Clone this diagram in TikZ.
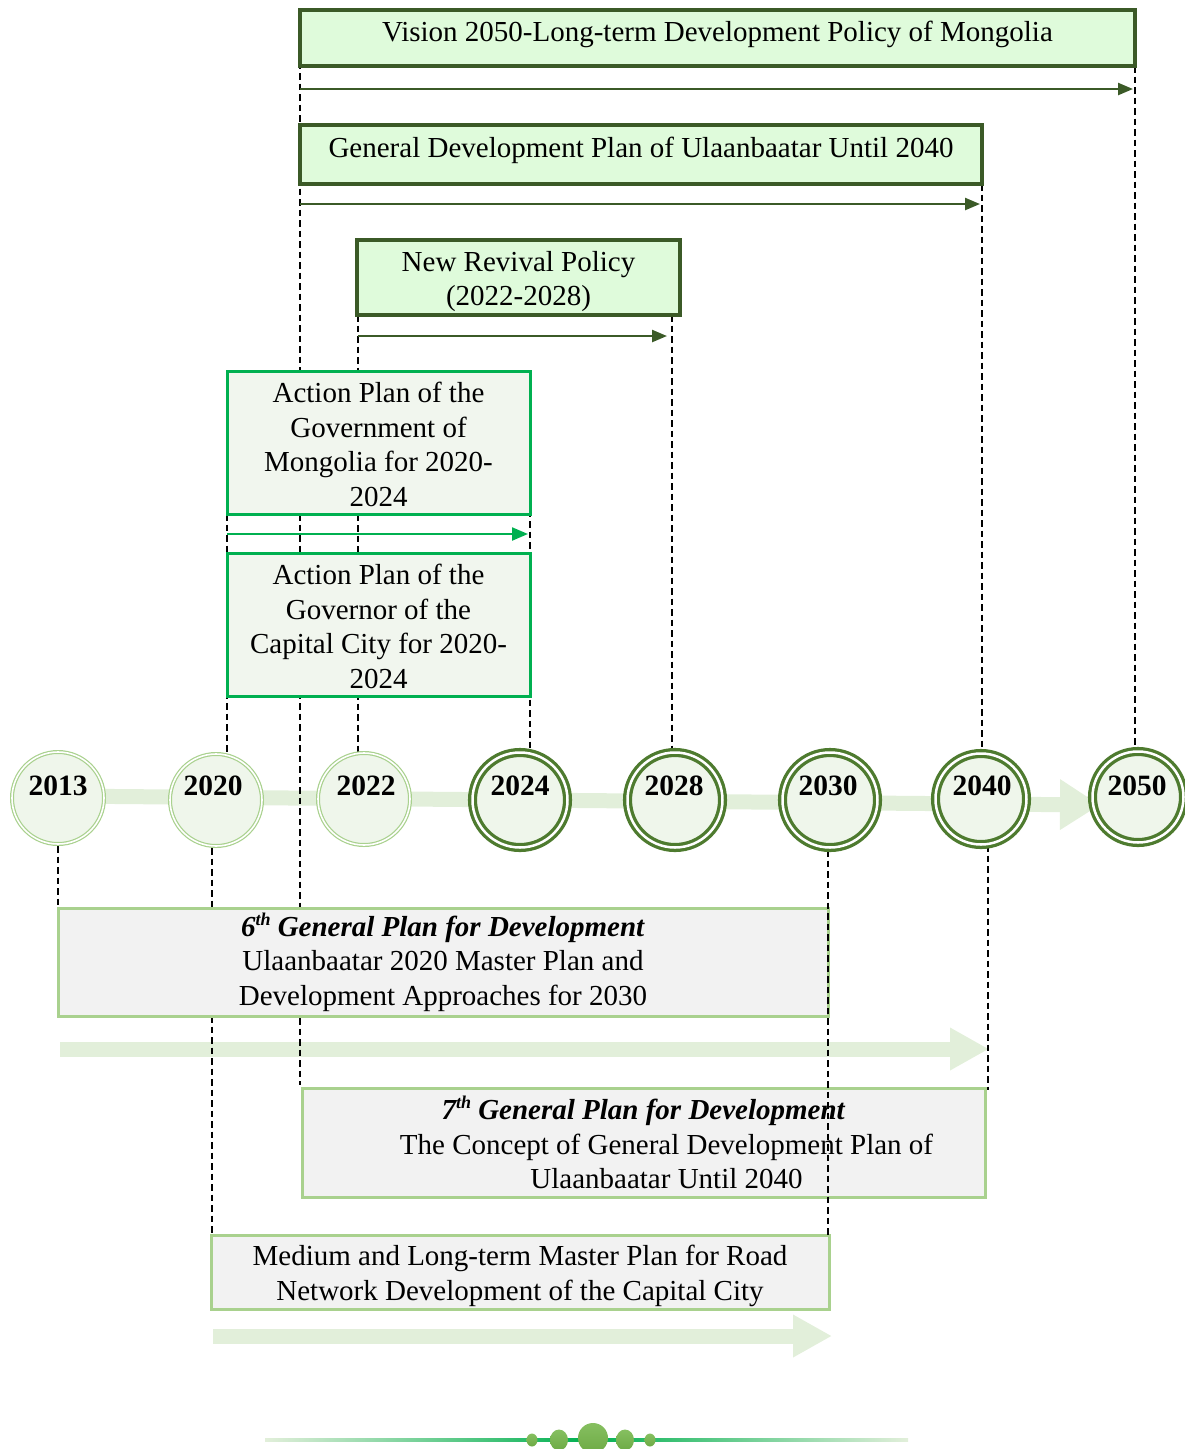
\documentclass[tikz,border=0pt]{standalone}
\usepackage{fontspec}
\setmainfont{Liberation Serif}
\usetikzlibrary{arrows.meta}
\definecolor{boxdark}{HTML}{3B5A27}
\definecolor{boxfill}{HTML}{DFFBDB}
\definecolor{actgreen}{HTML}{00B050}
\definecolor{actfill}{HTML}{F1F6EE}
\definecolor{grayfill}{HTML}{F2F2F2}
\definecolor{lightring}{HTML}{A9D18E}
\definecolor{ringdark}{HTML}{4E7B2F}
\definecolor{barcolor}{HTML}{E2EFDA}
\definecolor{circfill}{HTML}{EFF6EB}
\definecolor{dotgreen}{HTML}{6DAA45}
\definecolor{dotlight}{HTML}{86BF60}
\newcommand{\lowerby}[1]{\rule{0pt}{#1}}
\begin{document}
\begin{tikzpicture}[x=1pt,y=-1pt,
  every node/.style={font=\fontsize{29pt}{34.5pt}\selectfont, inner sep=0pt, outer sep=0pt},
  darkbox/.style={draw=boxdark, line width=3.5pt, fill=boxfill, anchor=north west, align=center},
  actbox/.style={draw=actgreen, line width=3pt, fill=actfill, anchor=north west, align=center},
  graybox/.style={draw=lightring, line width=3pt, fill=grayfill, anchor=north west, align=center},
  guide/.style={black, line width=1.4pt, dash pattern=on 6.5pt off 4pt},
  thinarrow/.style={boxdark, line width=2.4pt, -{Triangle[length=15pt,width=12pt]}},
  actarrow/.style={actgreen, line width=2.2pt, -{Triangle[length=16pt,width=13pt]}},
  bararrow/.style={barcolor, line width=15pt, -{Triangle[length=39pt,width=40pt]}},
  lightyear/.style={circle, fill=circfill, draw=lightring, line width=1.2pt, double=white, double distance=1.6pt, minimum size=92pt},
  darkyear/.style={circle, fill=circfill, draw=ringdark, line width=3.3pt, double=white, double distance=2.5pt},
  yeartext/.style={font=\fontsize{29.5pt}{30pt}\selectfont\bfseries}
]
\useasboundingbox (0,0) rectangle (1185,1449);

% ---------- timeline bar and bottom bars ----------
\coordinate (tlstart) at (58,796);
\coordinate (tlend) at (1100,805);
\draw[barcolor, line width=15pt, -{Triangle[length=40pt,width=48pt]}] (tlstart) -- (tlend);

\coordinate (b6start) at (60,1049);
\coordinate (b6end) at (989,1049);
\draw[bararrow] (b6start) -- (b6end);

\coordinate (brstart) at (213,1336);
\coordinate (brend) at (832,1336);
\draw[bararrow] (brstart) -- (brend);

% ---------- guide lines (behind boxes) ----------
\coordinate (g300a) at (300,10);
\coordinate (g300b) at (300,1085);
\coordinate (g1135a) at (1135,66);
\coordinate (g1135b) at (1135,752);
\coordinate (g982a) at (982,184);
\coordinate (g982b) at (982,752);
\coordinate (g358a) at (358,315);
\coordinate (g358b) at (358,752);
\coordinate (g672a) at (672,315);
\coordinate (g672b) at (672,750);
\coordinate (g227a) at (227,514);
\coordinate (g227b) at (227,755);
\coordinate (g530a) at (530,500);
\coordinate (g530b) at (530,750);
\coordinate (g58a) at (58,846);
\coordinate (g58b) at (58,908);
\coordinate (g212a) at (212,848);
\coordinate (g212b) at (212,1235);
\coordinate (g988a) at (988,845);
\coordinate (g988b) at (988,1090);
\coordinate (g828a) at (828,850);
\coordinate (g828b) at (828,1236);

\draw[guide] (g300a) -- (g300b);
\draw[guide] (g1135a) -- (g1135b);
\draw[guide] (g982a) -- (g982b);
\draw[guide] (g358a) -- (g358b);
\draw[guide] (g672a) -- (g672b);
\draw[guide] (g227a) -- (g227b);
\draw[guide] (g530a) -- (g530b);
\draw[guide] (g58a) -- (g58b);
\draw[guide] (g212a) -- (g212b);
\draw[guide] (g988a) -- (g988b);

% ---------- boxes ----------
\node[darkbox, minimum width=835pt, minimum height=56pt, text depth=14pt] (vision) at (300,10)
  {Vision 2050-Long-term Development Policy of Mongolia};
\node[darkbox, minimum width=682pt, minimum height=59pt, text depth=14pt] (gendev) at (300,125)
  {General Development Plan of Ulaanbaatar Until 2040};
\node[darkbox, minimum width=323pt, minimum height=75pt] (revival) at (357,240)
  {\lowerby{28pt}New Revival Policy\\(2022-2028)};
\node[actbox, minimum width=303pt, minimum height=143pt] (actgov) at (227,371)
  {\lowerby{24pt}Action Plan of the\\Government of\\Mongolia for 2020-\\2024};
\node[actbox, minimum width=303pt, minimum height=143pt] (actcap) at (227,553)
  {\lowerby{24pt}Action Plan of the\\Governor of the\\Capital City for 2020-\\2024};
\node[graybox, minimum width=770pt, minimum height=108pt] (gp6) at (58,908)
  {\lowerby{24pt}\textbf{\textit{6\raisebox{0.38em}{\fontsize{18pt}{18pt}\selectfont th} General Plan for Development}}\\
   Ulaanbaatar 2020 Master Plan and\\Development Approaches for 2030};
\node[graybox, minimum width=683pt, minimum height=109pt] (gp7) at (302,1088)
  {\textbf{\textit{7\raisebox{0.38em}{\fontsize{18pt}{18pt}\selectfont th} General Plan for Development}}\\
   \hspace*{46pt}The Concept of General Development Plan of\\\hspace*{46pt}Ulaanbaatar Until 2040};
\node[graybox, minimum width=618pt, minimum height=74pt] (road) at (211,1235)
  {\lowerby{28pt}Medium and Long-term Master Plan for Road\\Network Development of the Capital City};

% guide line drawn over the 7th plan box
\draw[guide] (g828a) -- (g828b);

% ---------- thin arrows ----------
\coordinate (a1s) at (300,89);  \coordinate (a1e) at (1133,89);
\coordinate (a2s) at (300,204); \coordinate (a2e) at (980,204);
\coordinate (a3s) at (358,336); \coordinate (a3e) at (667,336);
\coordinate (a4s) at (227,534); \coordinate (a4e) at (528,534);
\draw[thinarrow] (a1s) -- (a1e);
\draw[thinarrow] (a2s) -- (a2e);
\draw[thinarrow] (a3s) -- (a3e);
\draw[actarrow] (a4s) -- (a4e);

% ---------- year circles ----------
\node[lightyear] (c2013) at (58,798) {};
\node[lightyear] (c2020) at (216,800) {};
\node[lightyear] (c2022) at (364,799) {};
\node[darkyear, minimum size=95pt] (c2024) at (520,800) {};
\node[darkyear, minimum size=95pt] (c2028) at (675,800) {};
\node[darkyear, minimum size=95pt] (c2030) at (830,800) {};
\node[darkyear, minimum size=91pt] (c2040) at (981,799) {};
\node[darkyear, minimum size=91pt] (c2050) at (1138,797) {};

\node[yeartext] (t2013) at (58,786) {2013};
\node[yeartext] (t2020) at (213,786) {2020};
\node[yeartext] (t2022) at (366,786) {2022};
\node[yeartext] (t2024) at (520,786) {2024};
\node[yeartext] (t2028) at (674,786) {2028};
\node[yeartext] (t2030) at (828,786) {2030};
\node[yeartext] (t2040) at (982,786) {2040};
\node[yeartext] (t2050) at (1137,786) {2050};

% ---------- bottom ornament ----------
\shade[left color=barcolor, right color=actgreen] (265,1438.5) rectangle (587,1441.5);
\shade[left color=actgreen, right color=barcolor] (587,1438.5) rectangle (908,1441.5);
\shade[top color=dotlight, bottom color=dotgreen] (532,1440) ellipse [x radius=5.5, y radius=6.5];
\shade[top color=dotlight, bottom color=dotgreen] (559,1440) ellipse [x radius=9, y radius=10.5];
\shade[top color=dotlight, bottom color=dotgreen] (593,1438) ellipse [x radius=15, y radius=15];
\shade[top color=dotlight, bottom color=dotgreen] (625,1440) ellipse [x radius=9, y radius=10.5];
\shade[top color=dotlight, bottom color=dotgreen] (650,1440) ellipse [x radius=5.5, y radius=6.5];
\end{tikzpicture}
\end{document}
